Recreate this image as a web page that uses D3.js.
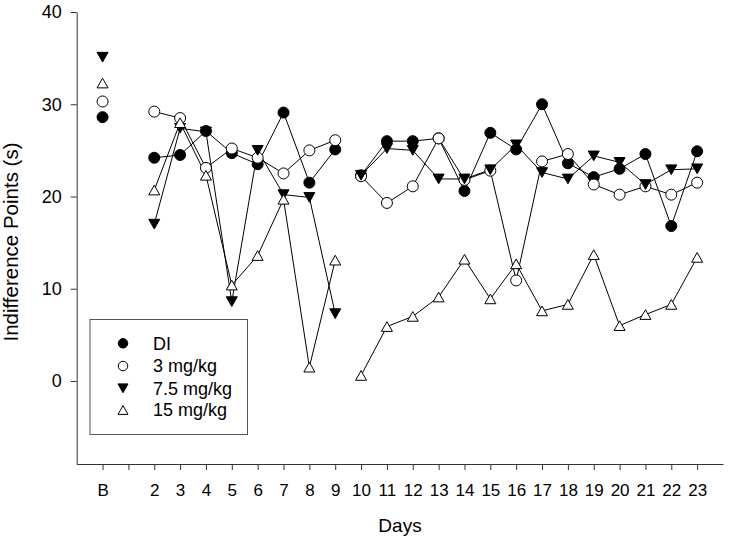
<!DOCTYPE html>
<html>
<head>
<meta charset="utf-8">
<script src="https://cdn.jsdelivr.net/npm/d3@7"></script>
<style>
html,body{margin:0;padding:0;background:#fff;}
svg{display:block;}
text{font-family:"Liberation Sans",Arial,sans-serif;fill:#000;}
</style>
</head>
<body>
<svg id="chart" width="729" height="546"></svg>
<script>
// ---- data ----
const tickLabels = ["B","","2","3","4","5","6","7","8","9","10","11","12","13","14","15","16","17","18","19","20","21","22","23"];
const days = [2,3,4,5,6,7,8,9,10,11,12,13,14,15,16,17,18,19,20,21,22,23];
const seriesNames = ["DI","3 mg/kg","7.5 mg/kg","15 mg/kg"];
const baseline = [28.6, 30.3, 35.1, 32.3];
const valsDI   = [24.2,24.5,27.1,24.7,23.5,29.1,21.5,25.1, 22.3,26.0,26.0,26.3,20.6,26.9,25.1,30.0,23.6,22.1,23.0,24.6,16.8,24.9];
const vals3    = [29.2,28.5,23.1,25.2,24.2,22.5,25.0,26.1, 22.2,19.3,21.1,26.3,21.8,22.8,10.9,23.8,24.6,21.3,20.2,21.1,20.2,21.5];
const vals75   = [17.0,27.4,27.0, 8.6,25.0,20.2,19.9, 7.3, 22.3,25.2,25.0,21.9,21.9,22.9,25.6,22.6,21.9,24.4,23.7,21.3,22.9,23.0];
const vals15   = [20.7,28.0,22.3,10.4,13.6,19.7, 1.5,13.1,  0.6, 5.9, 7.0, 9.1,13.2, 8.9,12.7, 7.6, 8.3,13.7, 6.0, 7.2, 8.3,13.4];
const yTicks = [0,10,20,30,40];

// ---- layout ----
const svg = d3.select("#chart");
const x = d3.scaleLinear().domain([-1,24]).range([76.7,723]);
const y = d3.scaleLinear().domain([-9,40]).range([464,12]);

const styles = [
  {fill:"#000", shape:"circle"},
  {fill:"#fff", shape:"circle"},
  {fill:"#000", shape:"down"},
  {fill:"#fff", shape:"up"}
];
const allVals = [valsDI, vals3, vals75, vals15];

function drawMarker(g, shape, fill, cx, cy, size){
  if(shape==="circle"){
    g.append("circle").attr("cx",cx).attr("cy",cy).attr("r",size/2)
      .attr("fill",fill).attr("stroke","#000").attr("stroke-width",1);
  } else {
    const w = size, h = size*0.88;
    let pts;
    if(shape==="up") pts = [[cx,cy-h/2],[cx+w/2,cy+h/2],[cx-w/2,cy+h/2]];
    else pts = [[cx-w/2,cy-h/2],[cx+w/2,cy-h/2],[cx,cy+h/2]];
    g.append("path").attr("d","M"+pts.map(p=>p.join(",")).join("L")+"Z")
      .attr("fill",fill).attr("stroke","#000").attr("stroke-width",1);
  }
}

// axes
const xAxis = d3.axisBottom(x).tickValues(d3.range(0,24)).tickFormat(i=>tickLabels[i])
  .tickSize(6).tickSizeOuter(0).tickPadding(14);
const gx = svg.append("g").attr("transform","translate(0,464)").call(xAxis);
gx.selectAll("text").style("font-size","17px");
gx.select(".domain").attr("stroke","#333");
gx.selectAll(".tick line").attr("stroke","#333");

const yAxis = d3.axisLeft(y).tickValues(yTicks).tickSize(6).tickSizeOuter(0).tickPadding(9);
const gy = svg.append("g").attr("transform","translate(76.7,0)").call(yAxis);
gy.selectAll("text").style("font-size","18px");
gy.select(".domain").attr("stroke","#333");
gy.selectAll(".tick line").attr("stroke","#333");

// axis titles
svg.append("text").attr("x",400).attr("y",532).attr("text-anchor","middle")
  .style("font-size","19px").text("Days");
svg.append("text").attr("transform","translate(18,242) rotate(-90)").attr("text-anchor","middle")
  .style("font-size","20.5px").text("Indifference Points (s)");

// lines (broken between day 9 and 10)
const line = d3.line().x(d=>x(d[0])).y(d=>y(d[1]));
const plot = svg.append("g");
allVals.forEach((vals)=>{
  const pts = days.map((d,i)=>[d,vals[i]]);
  const seg1 = pts.filter(p=>p[0]<=9), seg2 = pts.filter(p=>p[0]>=10);
  [seg1,seg2].forEach(seg=>{
    plot.append("path").attr("d",line(seg)).attr("fill","none")
      .attr("stroke","#000").attr("stroke-width",1);
  });
});
// markers
allVals.forEach((vals,si)=>{
  const g = plot.append("g");
  drawMarker(g, styles[si].shape, styles[si].fill, x(0), y(baseline[si]), 11);
  days.forEach((d,i)=>{
    drawMarker(g, styles[si].shape, styles[si].fill, x(d), y(vals[i]), 11);
  });
});

// legend
const lg = svg.append("g");
lg.append("rect").attr("x",90).attr("y",319.5).attr("width",157.5).attr("height",115)
  .attr("fill","#fff").attr("stroke","#555").attr("stroke-width",1);
const legY = [343.3,366,388.3,410];
seriesNames.forEach((n,i)=>{
  drawMarker(lg, styles[i].shape, styles[i].fill, 123, legY[i], styles[i].shape==="circle"?9.5:10);
  lg.append("text").attr("x",153).attr("y",legY[i]).attr("dy","0.36em")
    .style("font-size","18px").text(n);
});
</script>
</body>
</html>
